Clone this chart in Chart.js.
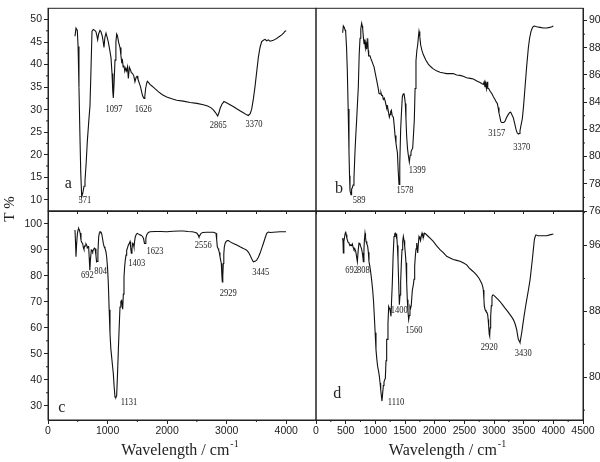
<!DOCTYPE html>
<html><head><meta charset="utf-8">
<script src="https://cdn.jsdelivr.net/npm/chart.js@4.4.0/dist/chart.umd.min.js"></script>
<style>
html,body{margin:0;padding:0;background:#fff;}
#wrap{position:relative;width:600px;height:462px;overflow:hidden;background:#fff;}
canvas{position:absolute;left:0;top:0;}
</style></head><body>
<div id="wrap">
<canvas id="ca" width="600" height="462"></canvas>
<canvas id="cb" width="600" height="462"></canvas>
<canvas id="cc" width="600" height="462"></canvas>
<canvas id="cd" width="600" height="462"></canvas>
</div>
<script>
// ---------- DATA ----------
// Panel a
const waveA = [453,470,480,492,505,520,535,550,566,585,605,621,640,660,685,705,720,732,739,761,785,805,820,834,850,873,890,912,930,940,955,974,995,1013,1040,1058,1075,1088,1097,1110,1125,1140,1153,1165,1185,1209,1225,1237,1250,1262,1275,1290,1305,1320,1335,1349,1366,1385,1400,1420,1440,1460,1480,1495,1510,1530,1555,1575,1590,1612,1626,1640,1655,1668,1690,1712,1740,1768,1800,1852,1920,1993,2080,2161,2270,2384,2500,2608,2680,2740,2780,2815,2849,2870,2888,2920,2955,2990,3056,3110,3168,3230,3280,3330,3364,3395,3420,3450,3476,3505,3532,3560,3588,3616,3644,3672,3700,3728,3756,3784,3812,3840,3880,3924,3955,3980,4000];
const transA = [46.3,48.1,47.9,47.6,44,35,25,16,10.6,11.5,13,14.2,18,22.9,27.5,30.9,38,44,47.4,47.8,47.6,47.3,46.5,45.5,46.8,47.6,47.3,46.3,44.8,43.8,46,47.0,46,45.0,43,41.5,38,34,32.6,36,41,45,46.8,46.5,45,43.8,42,40.6,41,39.5,39.8,38.5,39.2,38.6,39.5,36.9,39.4,38.8,38.2,38.0,37.5,36.2,37.2,37.4,36.8,36.0,35.0,33.8,33.0,32.5,33.0,34.7,35.8,36.3,36.0,35.6,35.3,35.0,34.6,34.0,33.3,32.8,32.4,32.1,31.9,31.6,31.4,31.1,30.8,30.4,29.9,29.3,28.6,29.3,30.2,31.2,31.8,31.6,31.1,30.7,30.2,29.7,29.3,28.9,28.7,29.1,30.1,32.5,35.1,38.5,41.6,43.8,45.1,45.4,45.6,45.3,45.5,45.2,45.3,45.4,45.6,45.8,46.2,46.6,47.0,47.4,47.5];
// Panel b
const waveB = [449,461,475,490,500,515,528,542,556,565,573,590,600,612,625,640,657,670,685,700,713,728,742,755,770,780,787,798,809,820,832,843,854,862,871,880,888,910,925,939,960,978,1000,1023,1045,1062,1080,1095,1107,1120,1135,1150,1165,1180,1191,1205,1220,1236,1248,1258,1270,1285,1304,1320,1332,1348,1360,1372,1385,1399,1412,1427,1440,1455,1470,1483,1495,1505,1516,1528,1542,1556,1573,1587,1601,1615,1629,1643,1657,1670,1685,1700,1714,1728,1736,1750,1764,1785,1808,1850,1893,1935,1977,2030,2090,2150,2202,2260,2314,2370,2427,2480,2540,2600,2652,2710,2764,2800,2820,2835,2848,2860,2872,2885,2895,2910,2935,2961,2990,3017,3040,3056,3070,3084,3100,3113,3130,3146,3165,3186,3210,3241,3265,3281,3300,3326,3350,3371,3390,3410,3425,3438,3455,3478,3500,3523,3550,3579,3600,3624,3645,3663,3681,3720,3776,3830,3888,3940,3975,4000];
const transB = [89.1,89.6,89.5,89.3,89.2,88,86.3,83.5,80.35,78.6,77.5,77.2,77.6,77.7,77.9,78.4,80.35,81.5,82.7,84,85.1,87.5,88.7,89.4,89.8,89.6,89.4,88.8,88.3,88.6,88.0,88.4,87.9,88.2,88.7,87.8,87.4,87.4,87.2,87.05,86.8,86.6,86.1,85.6,85.1,84.65,84.6,84.7,84.5,84.5,84.2,84.3,84.1,83.8,83.6,83.7,83.3,82.9,83.1,83.3,83.4,83.0,82.9,82.2,81.55,81.0,80.6,80.3,79.0,77.96,79.5,82.0,83.2,84.4,84.6,84.65,84.3,83.9,82.8,81.5,80.6,80.1,79.6,80.1,80.35,80.5,80.6,81.6,82.7,85,87.05,87.8,88.2,88.9,89.2,88.8,88.2,87.8,87.5,87.1,86.8,86.6,86.45,86.3,86.2,86.15,86.1,86.1,86.1,86.0,85.97,85.9,85.8,85.75,85.7,85.55,85.45,85.35,85.3,85.5,85.1,85.4,85.0,85.5,85.0,85.0,84.8,84.65,84.4,84.2,84.0,83.9,83.6,83.2,82.9,82.6,82.5,82.5,82.5,82.6,82.85,83.1,83.25,83.27,83.1,82.85,82.4,82.0,81.75,81.66,81.7,81.9,82.3,82.8,83.8,85.1,86.6,88.0,88.7,89.2,89.45,89.56,89.6,89.55,89.5,89.45,89.45,89.5,89.55,89.6];
// Panel c
const waveC = [453,462,470,480,492,505,515,525,540,554,568,582,593,604,612,621,630,638,650,660,672,682,692,700,705,712,727,740,750,765,778,790,805,815,828,838,851,862,873,887,901,915,929,943,957,971,985,1000,1013,1027,1041,1055,1069,1083,1097,1110,1125,1140,1153,1167,1181,1195,1209,1223,1237,1246,1254,1265,1276,1287,1298,1310,1321,1335,1349,1363,1377,1388,1399,1410,1422,1433,1444,1455,1466,1483,1500,1522,1545,1568,1590,1605,1620,1629,1643,1657,1685,1713,1800,1900,1993,2100,2200,2272,2350,2420,2460,2497,2520,2535,2550,2569,2600,2664,2720,2776,2800,2821,2832,2843,2855,2866,2877,2888,2900,2910,2920,2927,2935,2944,2952,2961,2975,2989,3010,3028,3060,3112,3170,3224,3280,3336,3370,3392,3420,3448,3476,3504,3532,3560,3588,3616,3644,3672,3700,3730,3784,3840,3896,3950,3996];
const transC = [97.7,93,87.4,92,96.0,97.8,98.3,97.8,96.5,93.8,92.8,92.5,91,90.2,91.3,91.7,91.9,92.3,91.8,90.8,91.2,91.5,87,82.5,82.2,86,90.0,89.8,89.3,90.2,90.7,90.5,88,85.4,85.6,89,95.1,96.5,97.0,96.9,96.4,94.5,92.5,91.2,90.6,89.5,87.4,83,77.1,67,57.8,52,48.7,45.5,42.3,37.5,33.3,33.2,33.9,42,51.3,60,68.0,70.2,70.6,68.5,67.2,73,79.6,83.5,86.1,88,89.9,90.8,91.9,92.5,93.2,91,88.7,90.5,92.6,92.3,91.1,93.5,95.1,96,96.4,96.1,95.8,95.6,95.1,94.3,92.5,92.5,94.5,95.8,96.7,97.0,97.1,97.1,97.0,97.2,97.3,97.3,97.1,97.0,96.8,96.5,95.8,95.1,95.6,96.4,96.7,96.8,96.8,96.8,96.6,96.4,94,91.2,90.6,89.9,89,87.4,86,84.8,80,77.7,80,84.8,88.5,91.2,92.6,93.2,93.6,93.6,93.1,92.5,91.9,91.2,90.6,89.9,89,88.0,86.6,85.4,85.6,86.1,87.2,88.7,90.6,92.5,94.5,96.4,96.9,96.7,96.8,96.9,97.0,97.0,97.0];
// Panel d
const waveD = [449,455,461,470,483,492,500,510,520,528,540,556,570,584,600,612,625,640,655,670,685,697,712,725,740,753,768,781,790,798,808,817,826,835,843,857,871,882,893,907,921,938,955,970,983,997,1011,1025,1039,1055,1068,1080,1090,1101,1112,1123,1135,1146,1157,1168,1180,1191,1202,1213,1225,1236,1247,1256,1264,1275,1286,1300,1315,1326,1337,1348,1360,1371,1382,1393,1405,1416,1427,1438,1450,1461,1472,1484,1495,1506,1517,1528,1539,1550,1562,1573,1584,1595,1605,1624,1640,1652,1663,1674,1686,1697,1705,1714,1725,1736,1750,1762,1775,1787,1800,1812,1826,1850,1893,1935,1977,2030,2090,2150,2202,2260,2314,2370,2427,2480,2540,2580,2624,2670,2708,2750,2793,2810,2820,2830,2837,2850,2865,2880,2893,2902,2910,2920,2927,2935,2944,2955,2966,2978,2989,3020,3045,3075,3101,3145,3186,3230,3270,3300,3326,3355,3382,3400,3410,3425,3438,3450,3467,3486,3506,3530,3551,3580,3607,3626,3646,3663,3680,3694,3708,3740,3776,3830,3888,3940,4000];
const transD = [96.9,96.5,95.1,96.5,97.1,97.5,97.7,97.3,96.9,96.7,96.4,96.3,96.0,96.1,96.0,96.2,95.8,95.5,95.6,95.3,94.6,94.05,95.5,96.3,96.2,95.9,95.6,95.1,94.6,94.05,95.5,96.8,97.5,97.0,96.5,96.2,95.9,95.2,94.05,93.5,92.8,91.8,90.6,89.2,87.4,85.4,83.35,82.2,81.3,80.7,80.1,79.3,78.5,77.8,77.1,78.0,79.0,79.4,79.7,79.8,82,84.6,84.6,86.5,88.6,88.4,88.2,87.8,87.4,89.5,91.4,94.8,97.1,97.4,97.5,97.2,97.3,96,94.3,91.5,88.8,90,91.6,93.8,95.5,96.5,97.1,96.6,95.9,95.0,93.9,91.5,89.4,88,87.0,87.5,88.6,88.4,88.7,90.6,91.2,91.9,93.5,94.7,95.6,96.3,95.8,95.1,96.2,97.1,96.9,96.6,97.2,97.5,97.1,97.0,97.5,97.4,97.1,96.8,96.5,96.0,95.5,95.1,94.7,94.5,94.3,94.2,94.1,93.9,93.65,93.3,93.0,92.7,92.4,92.0,91.4,91.0,90.6,89.5,88.6,88.2,88.0,87.9,87.6,87.0,86.2,85.2,85.0,86,87.4,88.7,89.8,90.0,90.0,89.8,89.6,89.4,89.2,88.8,88.4,88.0,87.6,87.3,87.0,86.5,85.8,85.0,84.6,84.4,84.2,84.7,85.4,86.4,87.4,88.5,89.4,90.6,91.8,93,94.3,95.5,96.7,97.1,97.3,97.2,97.2,97.2,97.2,97.3,97.4];

// Tick values
const xTicksLeft = [0,1000,2000,3000,4000];
const xTicksRight = [0,500,1000,1500,2000,2500,3000,3500,4000,4500];
const xTicksHalf = [0,500,1000,1500,2000,2500,3000,3500,4000,4500];
const xMinorLeft = [500,1500,2500,3500];
const xMinorRight = [250,750,1250,1750,2250,2750,3250,3750,4250];
const yTicksA = [10,15,20,25,30,35,40,45,50];
const yMinorA = [12.5,17.5,22.5,27.5,32.5,37.5,42.5,47.5];
const yTicksB = [76,78,80,82,84,86,88,90];
const yMinorB = [77,79,81,83,85,87,89];
const yTicksC = [30,40,50,60,70,80,90,100];
const yMinorC = [35,45,55,65,75,85,95];
const yTicksD = [80,88,96];
const yMinorD = [76,84,92,100];

// Peak labels (text, wavenumber, transmittance anchor)
const notesA = ['571','1097','1626','2865','3370'];
const notesAx = [621,1108,1600,2860,3459];
const notesAy = [9.9,30.1,30.1,26.5,26.8];
const notesB = ['589','1578','1399','3157','3370'];
const notesBx = [725,1500,1708,3045,3467];
const notesBy = [76.76,77.5,79.0,81.7,80.66];
const notesC = ['692','804','1403','1623','2556','2929','3445','1131'];
const notesCx = [660,885,1489,1797,2608,3028,3571,1360];
const notesCy = [80.3,81.8,84.8,89.3,91.6,73.2,81.2,31.1];
const notesD = ['692','808','1400','1560','2920','3430','1110'];
const notesDx = [601,798,1405,1652,2921,3495,1348];
const notesDy = [93.0,93.0,88.1,85.7,83.6,82.95,76.9];

const xTitle = 'Wavelength / cm';
const xTitleSup = '-1';
const yTitle = 'T %';

// ---------- RENDER ----------
const TICKFONT = "'Liberation Sans Narrow','Liberation Sans',Arial,sans-serif";
const SERIF = "'Liberation Serif','Times New Roman',serif";
const INK = '#222';

function sText(ctx, txt, x, y, font, sx) {
  ctx.save();
  ctx.font = font;
  ctx.translate(x, y);
  ctx.scale(sx, 1);
  ctx.fillText(txt, 0, 0);
  ctx.restore();
}

function makePanel(id, cfg) {
  const A = cfg.area;
  const yRight = cfg.yPos === 'right';
  const pts = cfg.wave.map((w, i) => ({x: w, y: cfg.trans[i]}));
  const deco = {
    id: 'deco',
    afterDraw(chart) {
      const ctx = chart.ctx, ca = chart.chartArea;
      const xs = chart.scales.x, ys = chart.scales.y;
      ctx.save();
      ctx.strokeStyle = INK;
      ctx.lineWidth = 1;
      ctx.strokeRect(ca.left, ca.top, ca.right - ca.left, ca.bottom - ca.top);
      // minor ticks
      ctx.beginPath();
      cfg.yMinor.forEach(v => {
        const py = ys.getPixelForValue(v);
        if (yRight) { ctx.moveTo(ca.right, py); ctx.lineTo(ca.right + 2, py); }
        else { ctx.moveTo(ca.left, py); ctx.lineTo(ca.left - 2, py); }
      });
      (cfg.xMinor || []).forEach(v => {
        const px = xs.getPixelForValue(v);
        ctx.moveTo(px, ca.bottom); ctx.lineTo(px, ca.bottom + 2);
      });
      ctx.stroke();
      // peak labels
      ctx.fillStyle = INK;
      ctx.textAlign = 'center';
      ctx.textBaseline = 'middle';
      cfg.notes.forEach((t, i) => {
        sText(ctx, t, xs.getPixelForValue(cfg.notesX[i]), ys.getPixelForValue(cfg.notesY[i]), '10px ' + SERIF, 0.85);
      });
      // panel letter
      sText(ctx, cfg.letter[0], xs.getPixelForValue(cfg.letter[1]), ys.getPixelForValue(cfg.letter[2]), '16px ' + SERIF, 1);
      // axis titles
      if (cfg.xTitle) {
        ctx.font = '16px ' + SERIF;
        const w1 = ctx.measureText(xTitle).width;
        ctx.font = '10px ' + SERIF;
        const w2 = ctx.measureText(xTitleSup).width;
        const cx = (ca.left + ca.right) / 2 - 2;
        const x0 = cx - (w1 + w2 + 1) / 2;
        ctx.textAlign = 'left';
        ctx.textBaseline = 'alphabetic';
        ctx.font = '16px ' + SERIF;
        ctx.fillText(xTitle, x0, 455);
        ctx.font = '10px ' + SERIF;
        ctx.fillText(xTitleSup, x0 + w1 + 1, 447);
      }
      if (cfg.yTitle) {
        ctx.save();
        ctx.translate(10, 209);
        ctx.rotate(-Math.PI / 2);
        ctx.textAlign = 'center';
        ctx.textBaseline = 'middle';
        ctx.font = '15px ' + SERIF;
        ctx.fillText(yTitle, 0, 0);
        ctx.restore();
      }
      ctx.restore();
    }
  };
  return new Chart(document.getElementById(id), {
    type: 'line',
    data: {datasets: [{data: pts, borderColor: '#111', borderWidth: 1.1, pointRadius: 0, tension: 0, fill: false}]},
    options: {
      responsive: false, animation: false, devicePixelRatio: 1, events: [],
      layout: {autoPadding: false, padding: yRight ? {left: A.left, top: A.top, right: 0, bottom: 0} : {left: 0, top: A.top, right: 600 - A.right, bottom: 0}},
      plugins: {legend: {display: false}, tooltip: {enabled: false}, title: {display: false}},
      scales: {
        x: {
          type: 'linear', position: 'bottom', min: 0, max: 4500,
          afterBuildTicks: s => { s.ticks = cfg.xTicks.map(v => ({value: v})); },
          afterFit: s => { s.height = 462 - A.bottom; },
          grid: {display: true, drawOnChartArea: false, drawTicks: true, tickLength: cfg.showX ? 4 : 3, color: INK, tickColor: INK, lineWidth: 1},
          border: {display: true, color: INK, width: 1},
          ticks: {display: cfg.showX, autoSkip: false, maxRotation: 0, minRotation: 0, padding: 1, color: INK, font: {family: TICKFONT, size: 10.5}, callback: v => String(v)}
        },
        y: {
          type: 'linear', position: yRight ? 'right' : 'left', min: cfg.yMin, max: cfg.yMax,
          afterBuildTicks: s => { s.ticks = cfg.yTicks.map(v => ({value: v})); },
          afterFit: s => { s.width = yRight ? 600 - A.right : A.left; },
          grid: {display: true, drawOnChartArea: false, drawTicks: true, tickLength: 4, color: INK, tickColor: INK, lineWidth: 1},
          border: {display: true, color: INK, width: 1},
          ticks: {display: true, autoSkip: false, padding: 2, color: INK, font: {family: TICKFONT, size: 10.5}, callback: v => String(v)}
        }
      }
    },
    plugins: [deco]
  });
}

makePanel('ca', {area: {left: 48, top: 3, right: 316, bottom: 211}, yPos: 'left', wave: waveA, trans: transA,
  yMin: 7.5, yMax: 52.5, yTicks: yTicksA, yMinor: yMinorA, xTicks: xTicksHalf, xMinor: [], showX: false,
  notes: notesA, notesX: notesAx, notesY: notesAy, letter: ['a', 341, 13.65]});
makePanel('cb', {area: {left: 316, top: 3, right: 583, bottom: 211}, yPos: 'right', wave: waveB, trans: transB,
  yMin: 76, yMax: 90.9, yTicks: yTicksB, yMinor: yMinorB, xTicks: xTicksHalf, xMinor: [], showX: false,
  notes: notesB, notesX: notesBx, notesY: notesBy, letter: ['b', 388, 77.6]});
makePanel('cc', {area: {left: 48, top: 211, right: 316, bottom: 420}, yPos: 'left', wave: waveC, trans: transC,
  yMin: 24.5, yMax: 105, yTicks: yTicksC, yMinor: yMinorC, xTicks: xTicksLeft, xMinor: xMinorLeft, showX: true,
  notes: notesC, notesX: notesCx, notesY: notesCy, letter: ['c', 230, 29.2], xTitle: true, yTitle: true});
makePanel('cd', {area: {left: 316, top: 211, right: 583, bottom: 420}, yPos: 'right', wave: waveD, trans: transD,
  yMin: 74.8, yMax: 100.2, yTicks: yTicksD, yMinor: yMinorD, xTicks: xTicksRight, xMinor: xMinorRight, showX: true,
  notes: notesD, notesX: notesDx, notesY: notesDy, letter: ['d', 359, 78.0], xTitle: true});
</script>
</body></html>
